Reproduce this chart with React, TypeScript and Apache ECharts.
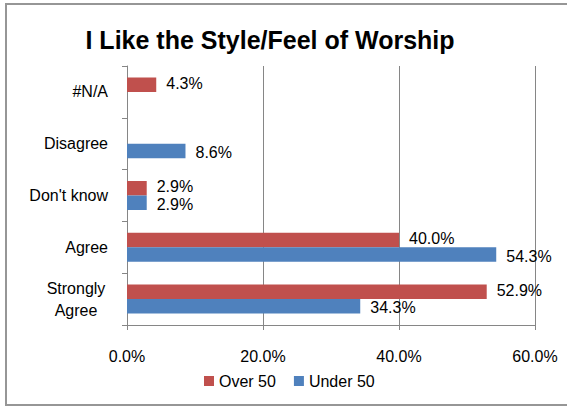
import React, { useEffect, useRef } from "react";
import * as echarts from "echarts";

const categories = ["Strongly Agree", "Agree", "Don't know", "Disagree", "#N/A"];
const over50 = [52.9, 40.0, 2.9, null, 4.3];
const under50 = [34.3, 54.3, 2.9, 8.6, null];
const xTicks = [0, 20, 40, 60];
const seriesNames = ["Over 50", "Under 50"];
const titleText = "I Like the Style/Feel of Worship";

const FONT = "Liberation Sans, Arial, sans-serif";

export default function App() {
  const ref = useRef<HTMLDivElement>(null);
  useEffect(() => {
    if (!ref.current) return;
    const chart = echarts.init(ref.current, null, { renderer: "svg" });
    const labelCfg = (dy: number) => ({
      show: true,
      position: "right",
      distance: 10,
      offset: [0, dy],
      color: "#000",
      fontFamily: FONT,
      fontSize: 16,
      lineHeight: 14,
      formatter: (p: any) => (p.value == null ? "" : `${Number(p.value).toFixed(1)}%`),
    });
    chart.setOption({
      animation: false,
      backgroundColor: "#fff",
      textStyle: { fontFamily: FONT },
      title: {
        text: titleText,
        left: 265,
        top: 22,
        textAlign: "center",
        textStyle: { fontFamily: FONT, fontSize: 25, fontWeight: "bold", color: "#000" },
      },
      graphic: [
        {
          type: "rect",
          shape: { x: 6, y: 4, width: 580, height: 401 },
          style: { fill: "none", stroke: "#969696", lineWidth: 2 },
          silent: true,
          z: 100,
        },
      ],
      legend: {
        data: seriesNames,
        left: 199,
        top: 368,
        itemWidth: 10,
        itemHeight: 10,
        itemGap: 18,
        icon: "rect",
        textStyle: { fontFamily: FONT, fontSize: 16, color: "#000" },
      },
      grid: { left: 127, right: 32, top: 66, bottom: 82, containLabel: false },
      xAxis: {
        type: "value",
        min: xTicks[0],
        max: xTicks[xTicks.length - 1],
        interval: 20,
        axisLine: { show: true, lineStyle: { color: "#868686" } },
        axisTick: { show: true, length: 5, lineStyle: { color: "#868686" } },
        splitLine: { show: true, lineStyle: { color: "#868686" } },
        axisLabel: {
          margin: 23,
          color: "#000",
          fontFamily: FONT,
          fontSize: 16,
          formatter: (v: number) => `${v.toFixed(1)}%`,
        },
      },
      yAxis: {
        type: "category",
        data: categories,
        axisLine: { show: true, lineStyle: { color: "#868686" } },
        axisTick: { show: true, length: 5, lineStyle: { color: "#868686" } },
        axisLabel: {
          margin: 19,
          color: "#000",
          fontFamily: FONT,
          fontSize: 16,
          lineHeight: 22,
          formatter: (v: string) =>
            v === "Strongly Agree" ? "{c|Strongly}\n{c|Agree}" : v,
          rich: {
            c: { width: 64, align: "center", fontFamily: FONT, fontSize: 16, color: "#000", lineHeight: 22 },
          },
        },
      },
      series: [
        {
          name: "Over 50",
          type: "bar",
          data: over50,
          itemStyle: { color: "#C0504D" },
          barGap: "0%",
          barCategoryGap: "44%",
          label: labelCfg(-1.5),
        },
        {
          name: "Under 50",
          type: "bar",
          data: under50,
          itemStyle: { color: "#4F81BD" },
          barGap: "0%",
          barCategoryGap: "44%",
          label: labelCfg(1.5),
        },
      ],
    });
    return () => chart.dispose();
  }, []);
  return (
    <div
      ref={ref}
      style={{ position: "fixed", left: 0, top: 0, width: 567, height: 407 }}
    />
  );
}
